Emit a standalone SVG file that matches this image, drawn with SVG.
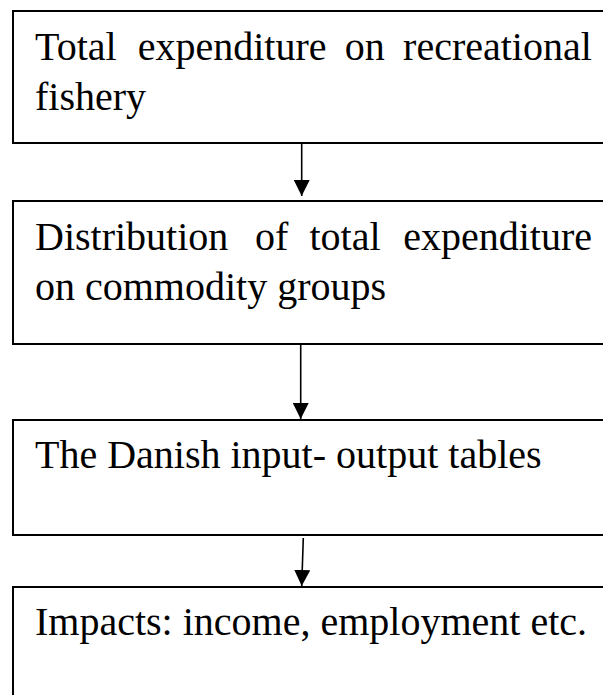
<svg xmlns="http://www.w3.org/2000/svg" width="603" height="695" viewBox="0 0 603 695">
<style>
.box{fill:#fff;stroke:#000;stroke-width:2}
.t{font-family:"Liberation Serif","Times New Roman",serif;font-size:40px;fill:#000}
.c{stroke:#000;stroke-width:1.6;fill:none}
</style>
<defs>
<marker id="ah" markerWidth="16" markerHeight="16" refX="16" refY="8" orient="auto" markerUnits="userSpaceOnUse">
<path d="M0,0 L16,8 L0,16 Z" fill="#000"/>
</marker>
</defs>
<rect width="603" height="695" fill="#fff"/>
<g id="node1">
<rect class="box" x="13" y="11" width="620" height="132"/>
<text class="t" y="60"><tspan x="35">Total</tspan><tspan x="137.7">expenditure</tspan><tspan x="344.8">on</tspan><tspan x="403.1">recreational</tspan></text>
<text class="t" x="35" y="110">fishery</text>
</g>
<g id="node2">
<rect class="box" x="13" y="201" width="620" height="143"/>
<text class="t" y="250"><tspan x="35">Distribution</tspan><tspan x="255">of</tspan><tspan x="309.5">total</tspan><tspan x="403.2">expenditure</tspan></text>
<text class="t" x="35" y="300">on commodity groups</text>
</g>
<g id="node3">
<rect class="box" x="13" y="420" width="620" height="115"/>
<text class="t" x="35" y="468">The Danish input- output tables</text>
</g>
<g id="node4">
<rect class="box" x="13" y="587" width="620" height="140"/>
<text class="t" x="35" y="635">Impacts: income, employment etc.</text>
</g>
<g id="connectors">
<line class="c" x1="301.7" y1="143" x2="301.7" y2="196" marker-end="url(#ah)"/>
<line class="c" x1="300.7" y1="344" x2="300.7" y2="419" marker-end="url(#ah)"/>
<line class="c" x1="303.3" y1="538" x2="301.7" y2="586" marker-end="url(#ah)"/>
</g>
</svg>
